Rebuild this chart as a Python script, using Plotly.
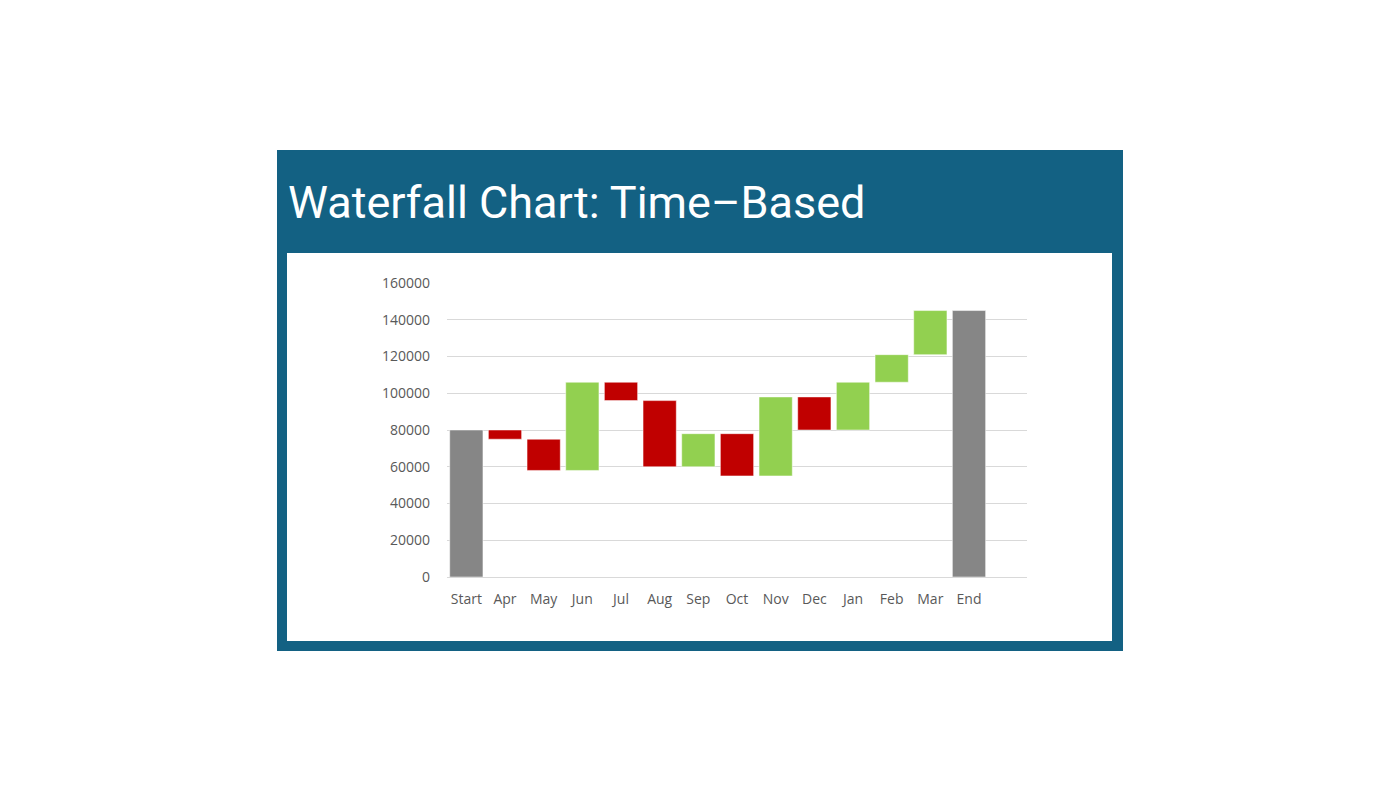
import plotly.graph_objects as go

categories = ["Start", "Apr", "May", "Jun", "Jul", "Aug", "Sep", "Oct", "Nov", "Dec", "Jan", "Feb", "Mar", "End"]
measures = ["absolute"] + ["relative"] * 12 + ["total"]
values = [80000, -5000, -17000, 48000, -10000, -36000, 18000, -23000, 43000, -18000, 26000, 15000, 24000, 0]
y_ticks = [0, 20000, 40000, 60000, 80000, 100000, 120000, 140000, 160000]
title_text = "Waterfall Chart: Time–Based"

# plot area in pixels
L, R, T, B = 447, 1027, 283, 577
W, H = R - L, B - T

def px(x):
    return (x - L) / W

def py(y):
    return (B - y) / H

fig = go.Figure(go.Waterfall(
    x=categories,
    y=values,
    measure=measures,
    increasing=dict(marker=dict(color="#92d050", line=dict(color="#ffffff", width=0.5))),
    decreasing=dict(marker=dict(color="#c00000", line=dict(color="#ffffff", width=0.5))),
    totals=dict(marker=dict(color="#868686", line=dict(color="#ffffff", width=0.5))),
    connector=dict(visible=False),
    width=0.86,
    hoverinfo="x+y",
))

fig.update_layout(
    width=1400, height=800,
    margin=dict(l=L, r=1400 - R, t=T, b=800 - B),
    paper_bgcolor="#ffffff",
    plot_bgcolor="rgba(0,0,0,0)",
    showlegend=False,
    font=dict(family="Open Sans", color="#595959", size=14),
    xaxis=dict(
        type="category",
        range=[-0.5, 14.5],
        showgrid=False,
        showline=False,
        ticks="",
        ticklabelstandoff=12,
        tickfont=dict(size=14, color="#595959"),
        fixedrange=True,
    ),
    yaxis=dict(
        range=[0, 160000],
        tickvals=y_ticks,
        ticktext=[str(v) for v in y_ticks],
        showgrid=True,
        gridcolor="#d9d9d9",
        gridwidth=1,
        zeroline=True,
        zerolinecolor="#d9d9d9",
        zerolinewidth=1,
        showline=False,
        ticks="",
        ticklabelstandoff=16,
        tickfont=dict(size=14, color="#595959"),
        fixedrange=True,
    ),
    shapes=[
        dict(type="rect", xref="paper", yref="paper", layer="below",
             x0=px(277), x1=px(1123), y0=py(651), y1=py(150),
             fillcolor="#136183", line=dict(width=0)),
        dict(type="rect", xref="paper", yref="paper", layer="below",
             x0=px(287), x1=px(1112), y0=py(641), y1=py(253),
             fillcolor="#ffffff", line=dict(width=0)),
    ],
    annotations=[
        dict(text=title_text, xref="paper", yref="paper",
             x=px(286), y=py(203), xanchor="left", yanchor="middle",
             showarrow=False, font=dict(family="Roboto", size=45, color="#ffffff")),
    ],
)

fig.write_html("out.html", config={"displayModeBar": False})
